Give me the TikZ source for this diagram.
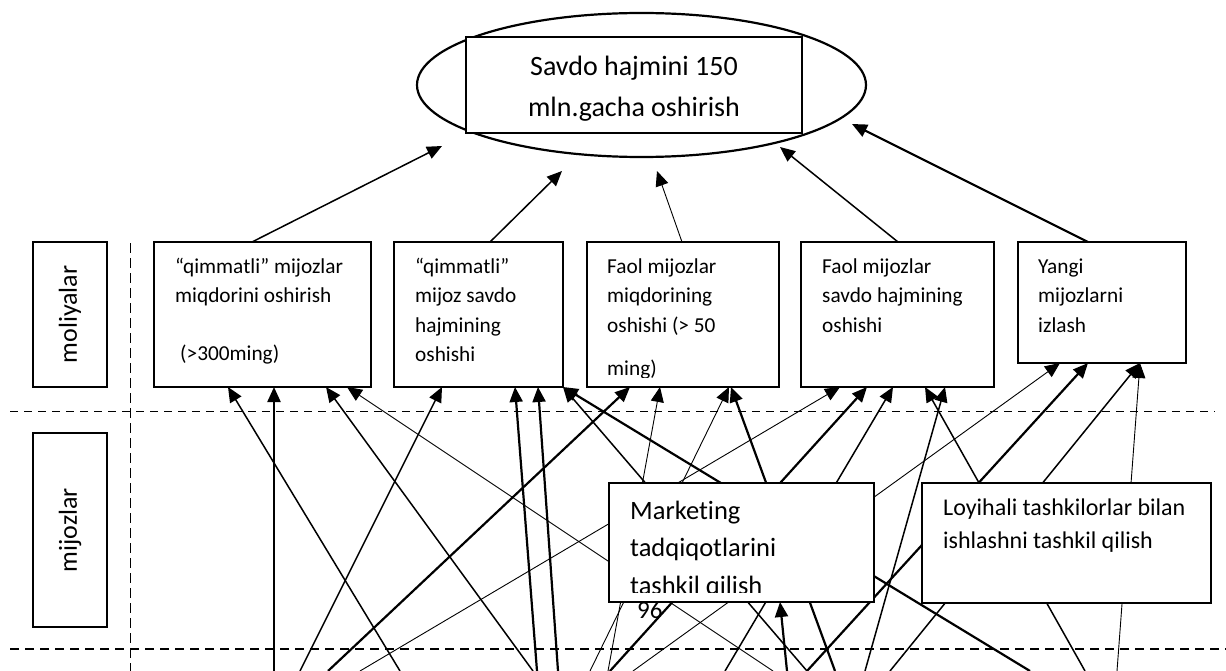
\documentclass[tikz,border=0pt]{standalone}
\usepackage{fontspec}
\setmainfont{Carlito}[Ligatures={TeX,NoCommon}]
\usetikzlibrary{arrows.meta,shapes.geometric,calc}

\begin{document}
\begin{tikzpicture}[x=1pt,y=-1pt,
  box/.style={draw,line width=2.2pt,fill=white,inner sep=0pt,outer sep=0pt,anchor=north west},
  txt/.style={anchor=base west,inner sep=0pt,font=\fontsize{21.3}{25}\selectfont},
  bigtxt/.style={anchor=base west,inner sep=0pt,font=\fontsize{26.5}{30}\selectfont},
  midtxt/.style={anchor=base west,inner sep=0pt,font=\fontsize{24}{28}\selectfont},
  tip/.style={-{Triangle[length=15pt,width=13pt]}},
  thinln/.style={tip,line width=0.9pt},
  midln/.style={tip,line width=1.5pt},
  thickln/.style={tip,line width=2.2pt},
]
\useasboundingbox (0,0) rectangle (1226,671);

% goal: ellipse with the framed title on top
\node[draw,ellipse,line width=2.2pt,inner sep=0pt,outer sep=0pt,
      minimum width=449pt,minimum height=144pt] (goal) at (641.5,85) {};
\node[box,minimum width=336pt,minimum height=96pt] (goalbox) at (466,37) {};
\node[anchor=base,inner sep=0pt,font=\fontsize{28}{34}\selectfont] (goal1) at (634,76) {Savdo hajmini 150};
\node[anchor=base,inner sep=0pt,font=\fontsize{28}{34}\selectfont] (goal2) at (634,117) {mln.gacha oshirish};

% row headings
\node[box,minimum width=74pt,minimum height=145pt] (hmol) at (33,242) {};
\node[rotate=90,inner sep=0pt,font=\fontsize{26}{30}\selectfont] (hmolt) at (hmol.center) {moliyalar};
\node[box,minimum width=74pt,minimum height=194pt] (hmij) at (33,433) {};
\node[rotate=90,inner sep=0pt,font=\fontsize{26}{30}\selectfont] (hmijt) at (hmij.center) {mijozlar};

% separators
\draw[line width=1pt,dash pattern=on 10pt off 5pt] (130,243) -- (130,671);
\draw[line width=1pt,dash pattern=on 8pt off 6pt] (10,411) -- (1215,411);
\draw[line width=2pt,dash pattern=on 9pt off 6pt] (10,649) -- (1226,649);

% financial objectives
\node[box,minimum width=217pt,minimum height=145pt] (b1) at (154,242) {};
\node[txt] (b1a) at (175,273) {“qimmatli” mijozlar};
\node[txt] (b1b) at (175,302) {miqdorini oshirish};
\node[txt] (b1c) at (180,360) {(>300ming)};

\node[box,minimum width=169pt,minimum height=145pt] (b2) at (394,242) {};
\node[txt] (b2a) at (415,273) {“qimmatli”};
\node[txt] (b2b) at (415,302) {mijoz savdo};
\node[txt] (b2c) at (415,332) {hajmining};
\node[txt] (b2d) at (415,361) {oshishi};

\node[box,minimum width=192pt,minimum height=145pt] (b3) at (587,242) {};
\node[txt] (b3a) at (607,273) {Faol mijozlar};
\node[txt] (b3b) at (607,302) {miqdorining};
\node[txt] (b3c) at (607,332) {oshishi (> 50};
\begin{scope}
  \clip (588,243) rectangle (778,377);
  \node[txt] (b3d) at (607,375) {ming)};
\end{scope}

\node[box,minimum width=193pt,minimum height=145pt] (b4) at (801,242) {};
\node[txt] (b4a) at (822,273) {Faol mijozlar};
\node[txt] (b4b) at (822,302) {savdo hajmining};
\node[txt] (b4c) at (822,332) {oshishi};

\node[box,minimum width=168pt,minimum height=121pt] (b5) at (1018,242) {};
\node[txt] (b5a) at (1038,273) {Yangi};
\node[txt] (b5b) at (1038,302) {mijozlarni};
\node[txt] (b5c) at (1038,332) {izlash};

% links from the financial objectives to the goal
\coordinate (g1) at (442,146);
\coordinate (g2) at (562,171);
\coordinate (g3) at (657,171);
\coordinate (g4) at (780,147);
\coordinate (g5) at (852,124);
\draw[midln]   ($(b1.north west)+(98,0)$) -- (g1);
\draw[midln]   ($(b2.north west)+(96,0)$) -- (g2);
\draw[thinln]  ($(b3.north west)+(95,0)$) -- (g3);
\draw[midln]   ($(b4.north west)+(97,0)$) -- (g4);
\draw[thickln] ($(b5.north west)+(70,0)$) -- (g5);

% links coming up from the lower levels
\coordinate (pA) at (400,671);
\coordinate (pB) at (300,671);
\coordinate (pC) at (274,671);
\coordinate (pD) at (533,671);
\coordinate (pE) at (773,671);
\coordinate (pF) at (537,671);
\coordinate (pG) at (558,671);
\coordinate (pH) at (1030,671);
\coordinate (pI) at (807,671);
\coordinate (pJ) at (328,671);
\coordinate (pK) at (608,671);
\coordinate (pL) at (590,671);
\coordinate (pM) at (835,671);
\coordinate (pN) at (360,671);
\coordinate (pO) at (610,671);
\coordinate (pP) at (725,671);
\coordinate (pQ) at (1085,671);
\coordinate (pR) at (865,671);
\coordinate (pS) at (633,671);
\coordinate (pT) at (807,671);
\coordinate (pU) at (890,671);
\coordinate (pV) at (1117,671);
\coordinate (pX) at (787,671);

\draw[midln]   (pA) -- ($(b1.south west)+(74,0)$);
\draw[thickln] (pC) -- ($(b1.south west)+(120,0)$);
\draw[midln]   (pD) -- ($(b1.south west)+(172,0)$);
\draw[thinln]  (pE) -- ($(b1.south west)+(193,0)$);

\draw[midln]   (pB) -- ($(b2.south west)+(48,0)$);
\draw[thickln] (pF) -- ($(b2.south west)+(121,0)$);
\draw[thickln] (pG) -- ($(b2.south west)+(144,0)$);
\draw[thickln] (pH) -- (b2.south east);
\draw[midln]   (pI) -- (b2.south east);

\draw[thickln] (pJ) -- ($(b3.south west)+(43,0)$);
\draw[thinln]  (pK) -- ($(b3.south west)+(73,0)$);
\draw[thinln]  (pL) -- ($(b3.south west)+(142,0)$);
\draw[thickln] (pM) -- ($(b3.south west)+(144,0)$);

\draw[thinln]  (pN) -- ($(b4.south west)+(39,0)$);
\draw[thickln] (pO) -- ($(b4.south west)+(66,0)$);
\draw[midln]   (pP) -- ($(b4.south west)+(92,0)$);
\draw[midln]   (pQ) -- ($(b4.south west)+(124,0)$);
\draw[midln]   (pR) -- ($(b4.south west)+(144,0)$);

\draw[thinln]  (pS) -- ($(b5.south west)+(42,0)$);
\draw[thickln] (pT) -- ($(b5.south west)+(70,0)$);
\draw[midln]   (pU) -- ($(b5.south west)+(122,0)$);
\draw[thinln]  (pV) -- ($(b5.south west)+(122,0)$);

% page number
\node[anchor=base west,inner sep=0pt,font=\fontsize{25}{30}\selectfont] (pageno) at (637,618) {96};

% customer-level activities
\node[box,minimum width=265pt,minimum height=119pt] (mk) at (609,483) {};
\begin{scope}
  \clip (610,484) rectangle (873,592);
  \node[bigtxt] (mka) at (630,519) {Marketing};
  \node[bigtxt] (mkb) at (630,556) {tadqiqotlarini};
  \node[bigtxt] (mkc) at (630,594) {tashkil qilish};
\end{scope}

\node[box,minimum width=289pt,minimum height=120pt] (lo) at (922,483) {};
\node[midtxt] (loa) at (943,515) {Loyihali tashkilorlar bilan};
\node[midtxt] (lob) at (943,548) {ishlashni tashkil qilish};

\draw[thickln] (pX) -- ($(mk.south west)+(171,0)$);

\end{tikzpicture}
\end{document}
